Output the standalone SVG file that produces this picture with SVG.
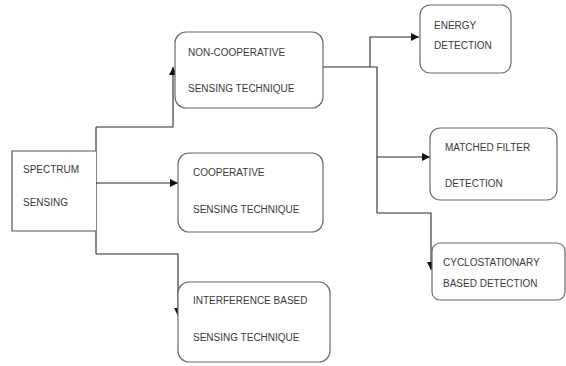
<svg xmlns="http://www.w3.org/2000/svg" width="566" height="366" viewBox="0 0 566 366">
<style>
.box{fill:#fff;stroke:#6a6a6a;stroke-width:1.2}
.t{font-family:"Liberation Sans",Arial,sans-serif;font-size:10px;fill:#3a3a3a}
.c{fill:none;stroke:#2a2a2a;stroke-width:1.1}
</style>
<defs>
<marker id="ah" viewBox="0 0 10 10" refX="10" refY="5" markerWidth="8" markerHeight="8" markerUnits="userSpaceOnUse" orient="auto">
<path d="M0,0 L10,5 L0,10 z" fill="#111"/>
</marker>
</defs>
<rect width="566" height="366" fill="#fff"/>
<g id="connectors">
<path class="c" d="M96,127 V254"/>
<path class="c" d="M96,127 H173 V67" marker-end="url(#ah)"/>
<path class="c" d="M96,183 H178" marker-end="url(#ah)"/>
<path class="c" d="M96,254 H178 V316" marker-end="url(#ah)"/>
<path class="c" d="M323,67 H377 V213"/>
<path class="c" d="M370,67 V37 H419" marker-end="url(#ah)"/>
<path class="c" d="M377,157 H430" marker-end="url(#ah)"/>
<path class="c" d="M377,213 H431 V270" marker-end="url(#ah)"/>
</g>
<g id="spectrum">
<path class="box" d="M96,151 H12 V231 H96" style="stroke:#555"/>
<text class="t" x="23" y="173">SPECTRUM</text>
<text class="t" x="23" y="206">SENSING</text>
</g>
<g id="noncoop">
<rect class="box" x="175" y="32" width="148" height="76" rx="11"/>
<text class="t" x="188" y="56">NON-COOPERATIVE</text>
<text class="t" x="188" y="92">SENSING TECHNIQUE</text>
</g>
<g id="coop">
<rect class="box" x="178" y="153" width="145" height="79" rx="11"/>
<text class="t" x="193" y="176">COOPERATIVE</text>
<text class="t" x="193" y="213">SENSING TECHNIQUE</text>
</g>
<g id="interference">
<rect class="box" x="178" y="282" width="152" height="80" rx="11"/>
<text class="t" x="193" y="304">INTERFERENCE BASED</text>
<text class="t" x="193" y="341">SENSING TECHNIQUE</text>
</g>
<g id="energy">
<rect class="box" x="420" y="5" width="91" height="68" rx="10"/>
<text class="t" x="434" y="29">ENERGY</text>
<text class="t" x="434" y="49">DETECTION</text>
</g>
<g id="matched">
<rect class="box" x="430" y="128" width="127" height="72" rx="10"/>
<text class="t" x="445" y="151">MATCHED FILTER</text>
<text class="t" x="445" y="187">DETECTION</text>
</g>
<g id="cyclo">
<rect class="box" x="432" y="243" width="133" height="57" rx="8"/>
<text class="t" x="443" y="266">CYCLOSTATIONARY</text>
<text class="t" x="443" y="287">BASED DETECTION</text>
</g>
</svg>
